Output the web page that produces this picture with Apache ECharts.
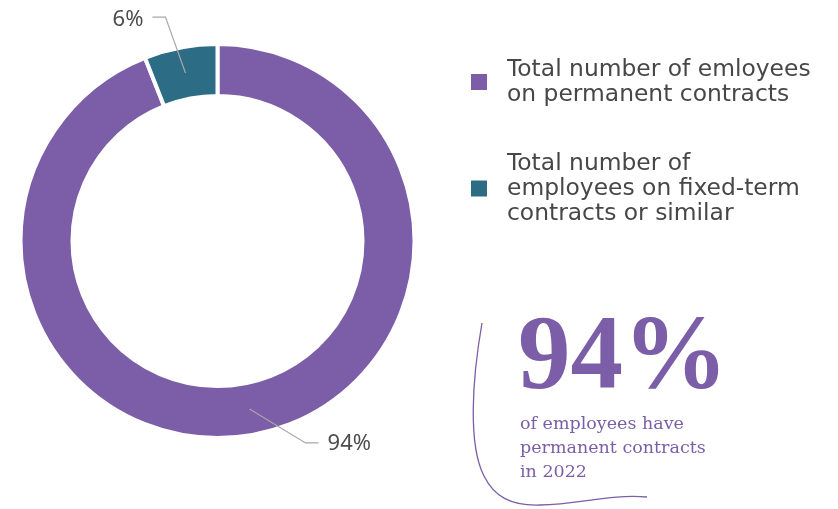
<!DOCTYPE html>
<html>
<head>
<meta charset="utf-8">
<script src="https://cdn.jsdelivr.net/npm/echarts@6/dist/echarts.min.js"></script>
<style>
  html, body { margin: 0; padding: 0; background: #ffffff; }
  #chart { width: 838px; height: 509px; }
</style>
</head>
<body>
<div id="chart"></div>
<script>
// ---- data ----
var categories = [
  'Total number of emloyees\non permanent contracts',
  'Total number of\nemployees on fixed-term\ncontracts or similar'
];
var shares = [94, 6];
var sliceLabels = ['94%', '6%'];
var colors = ['#7B5EA7', '#2D6C85'];
var headline = '94%';
var headlineNote = 'of employees have\npermanent contracts\nin 2022';

// ---- build ----
var pieData = categories.map(function (c, i) {
  return { name: c, value: shares[i], itemStyle: { color: colors[i] } };
});
var overlayData = categories.map(function (c, i) {
  return { name: c, value: shares[i], itemStyle: { color: 'rgba(0,0,0,0)' } };
});

// label leader-line bends (relative offsets, per slice)
var bends = [[56, 34, 13], [-20, -56, -13]];

var curveStyle = { fill: 'none', stroke: '#7B5EA7', lineWidth: 1.3 };

var chart = echarts.init(document.getElementById('chart'), null, { renderer: 'canvas' });
chart.setOption({
  animation: false,
  backgroundColor: '#ffffff',
  legend: {
    orient: 'vertical',
    left: 464,
    top: 52,
    itemWidth: 18,
    itemHeight: 18,
    itemGap: 44,
    icon: 'rect',
    selectedMode: false,
    data: categories,
    textStyle: {
      fontFamily: 'DejaVu Sans',
      fontSize: 23.4,
      lineHeight: 25,
      color: '#474747',
      padding: [0, 0, 0, 14]
    }
  },
  series: [
    {
      type: 'pie',
      center: [217.5, 241],
      radius: [145, 197],
      startAngle: 90,
      clockwise: true,
      silent: true,
      itemStyle: { borderColor: '#ffffff', borderWidth: 4 },
      label: { show: false },
      labelLine: { show: false },
      data: pieData
    },
    {
      type: 'pie',
      center: [217.5, 241],
      radius: [0, 171],
      startAngle: 90,
      clockwise: true,
      silent: true,
      z: 5,
      data: overlayData,
      label: {
        show: true,
        position: 'outside',
        formatter: function (p) { return sliceLabels[p.dataIndex]; },
        fontFamily: 'Noto Sans',
        fontSize: 22,
        color: '#4d4d4d'
      },
      labelLine: {
        show: true,
        length: 20,
        length2: 10,
        lineStyle: { color: '#a8a8a8', width: 1.2 }
      },
      labelLayout: function (p) {
        var pts = p.labelLinePoints;
        if (!pts) return {};
        var s = pts[0];
        var b = bends[p.dataIndex];
        var bend = [s[0] + b[0], s[1] + b[1]];
        var end = [bend[0] + b[2], bend[1]];
        var right = b[2] > 0;
        return {
          x: end[0] + (right ? 9 : -9),
          y: end[1] + (right ? 1 : 3),
          align: right ? 'left' : 'right',
          verticalAlign: 'middle',
          labelLinePoints: [s, bend, end]
        };
      }
    }
  ],
  graphic: [
    {
      type: 'text',
      x: 518,
      y: 308,
      style: {
        text: headline,
        font: 'bold 105px "Liberation Serif", serif',
        fill: '#7B5EA7'
      }
    },
    {
      type: 'text',
      x: 520,
      y: 412,
      style: {
        text: headlineNote,
        font: '17.5px "DejaVu Serif", serif',
        lineHeight: 24,
        fill: '#7B5EA7'
      }
    },
    {
      type: 'bezierCurve',
      shape: { x1: 482, y1: 323, cpx1: 472, cpy1: 380, cpx2: 468, cpy2: 445, x2: 484, y2: 476 },
      style: curveStyle
    },
    {
      type: 'bezierCurve',
      shape: { x1: 484, y1: 476, cpx1: 494, cpy1: 496, cpx2: 510, cpy2: 506, x2: 540, y2: 505 },
      style: curveStyle
    },
    {
      type: 'bezierCurve',
      shape: { x1: 540, y1: 505, cpx1: 580, cpy1: 504, cpx2: 610, cpy2: 494, x2: 647, y2: 497 },
      style: curveStyle
    }
  ]
});
</script>
</body>
</html>
